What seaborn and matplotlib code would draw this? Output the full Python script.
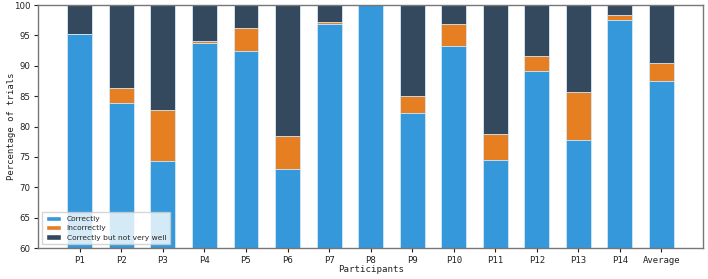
import matplotlib
matplotlib.use("Agg")
import matplotlib.pyplot as plt
import seaborn as sns
import pandas as pd
from matplotlib.patches import Patch

participants = ["P1", "P2", "P3", "P4", "P5", "P6", "P7", "P8", "P9", "P10",
                "P11", "P12", "P13", "P14", "Average"]
correctly = [95.3, 83.9, 74.3, 93.8, 92.4, 73.0, 96.9, 100.0, 82.2, 93.2,
             74.5, 89.1, 77.8, 97.5, 87.5]
incorrectly = [0.0, 2.4, 8.5, 0.3, 3.9, 5.4, 0.3, 0.0, 2.9, 3.7,
               4.3, 2.5, 7.9, 0.8, 3.0]
not_well = [100 - c - i for c, i in zip(correctly, incorrectly)]

colors = {"Correctly": "#3498db", "Incorrectly": "#e67e22",
          "Correctly but not very well": "#34495e"}

df = pd.DataFrame({"Participants": participants,
                   "c": correctly, "i": incorrectly, "n": not_well})
df["ci"] = df["c"] + df["i"]
df["cin"] = df["ci"] + df["n"]

sns.set_style("white")
fig, ax = plt.subplots(figsize=(7.08, 2.79), dpi=100)

for col, key in [("cin", "Correctly but not very well"),
                 ("ci", "Incorrectly"), ("c", "Correctly")]:
    sns.barplot(data=df, x="Participants", y=col, order=participants,
                color=colors[key], saturation=1, width=0.6,
                edgecolor="#d6eaf8", linewidth=0.6, ax=ax)

ax.set_ylim(60, 100)
ax.set_xlim(-1, 15)
ax.set_yticks([60, 65, 70, 75, 80, 85, 90, 95, 100])
ax.set_xlabel("Participants", family="DejaVu Sans Mono", fontsize=6.6, color="#222222")
ax.set_ylabel("Percentage of trials", family="DejaVu Sans Mono", fontsize=6.4, color="#222222")
ax.yaxis.set_label_coords((16 - 38) / 665, 0.5)
ax.xaxis.set_label_coords(0.5, (248 - 265) / 243)
for lab in ax.get_xticklabels():
    lab.set_family("DejaVu Sans Mono")
    lab.set_fontsize(6.5)
for lab in ax.get_yticklabels():
    lab.set_fontsize(6.2)
ax.tick_params(axis="both", colors="#222222", length=3, width=0.8,
               bottom=True, left=True, pad=2.5)
for s in ax.spines.values():
    s.set_color("#777777")
    s.set_linewidth(1.0)

handles = [Patch(facecolor=colors[k], label=k) for k in
           ["Correctly", "Incorrectly", "Correctly but not very well"]]
ax.legend(handles=handles, loc="lower left", fontsize=5.4, frameon=True,
          framealpha=0.8, edgecolor="#cccccc", fancybox=False,
          handlelength=2.0, borderpad=0.5, labelspacing=0.4)

fig.subplots_adjust(left=0.054, right=0.993, top=0.982, bottom=0.111)
fig.savefig("out.png", dpi=100)
